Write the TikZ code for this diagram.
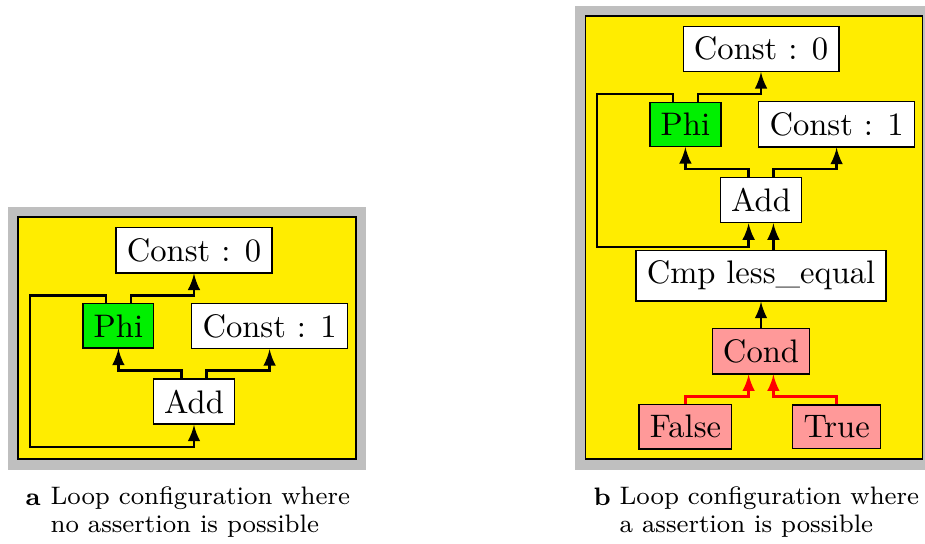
\documentclass[tikz,border=0pt]{standalone}
\usepackage{tikz}
\usetikzlibrary{shapes,arrows,positioning}
\definecolor{bgyellow}{RGB}{255,237,0}
\definecolor{phigreen}{RGB}{0,240,0}
\definecolor{boolred}{RGB}{255,153,153}
\definecolor{framegray}{RGB}{191,191,191}
\tikzstyle{opnode} = [rectangle, draw, fill=white, inner sep=3.3pt]
\tikzstyle{phinode} = [opnode, fill=phigreen]
\tikzstyle{boolnode} = [opnode, fill=boolred]
\tikzstyle{line} = [draw, line width=0.75pt, -latex]
\tikzstyle{boolline} = [line, red]
\tikzstyle{panel} = [draw, fill=bgyellow, line width=0.5pt]
\tikzstyle{frame} = [fill=framegray]
\tikzstyle{caption} = [inner sep=0pt, align=left, font=\fontsize{7.75}{8.6}\selectfont]
\tikzstyle{sublabel} = [caption, font=\fontsize{7.75}{8.6}\selectfont\bfseries]

\begin{document}
\begin{tikzpicture}[x=23.19pt, y=23.19pt]
		\useasboundingbox (-2.566,-1.872) rectangle (9.669,5.311);

		% (a) loop, no assertion
		\fill [frame] (-2.460,-0.906) rectangle (2.275,2.573);
		\path [panel] (-2.328,-0.761) rectangle (2.143,2.440);
		\node [opnode] (add) at (0,0) {Add};
		\node [phinode] (phi) at (-1,1) {Phi};
		\node [opnode] (c1) at (1,1) {Const : 1};
		\node [opnode] (c0) at (0,2) {Const : 0};
		\coordinate (back) at (-2.169,-0.602);

		\path [line] ([xshift=3.8pt]phi.north) -- ++(0,0.1) -| (c0.south);
		\path [line] ([xshift=-3.8pt]phi.north) -- ++(0,0.1) -| (back) -| (add.south);
		\path [line] ([xshift=-3.8pt]add.north) -- ++(0,0.1) -| (phi.south);
		\path [line] ([xshift=3.8pt]add.north) -- ++(0,0.1) -| (c1.south);

		% caption: base of a two-line node is its last line
		\node [sublabel, anchor=base west] (laba) at (-2.235,-1.369) {a};
		\node [caption, anchor=base west] (capa) at (-1.905,-1.739) {Loop configuration where\\no assertion is possible};

		% (b) loop guarded by a comparison
		\begin{scope}[shift={(7.5,-0.335)}]
			\fill [frame] (-2.463,-0.571) rectangle (2.169,5.566);
			\path [panel] (-2.321,-0.426) rectangle (2.136,5.434);
			\node [boolnode] (false) at (-1,0) {False};
			\node [boolnode] (true) at (1,0) {True};
			\node [boolnode] (cond) at (0,1) {Cond};
			\node [opnode] (cmp) at (0,2) {Cmp less\_equal};
			\node [opnode] (add2) at (0,3) {Add};
			\node [phinode] (phi2) at (-1,4) {Phi};
			\node [opnode] (c12) at (1,4) {Const : 1};
			\node [opnode] (c02) at (0,5) {Const : 0};
			\coordinate (back2) at (-2.168,2.382);

			\path [line] ([xshift=3.8pt]phi2.north) -- ++(0,0.1) -| (c02.south);
			\path [line] ([xshift=-3.8pt]phi2.north) -- ++(0,0.1) -| (back2) -| ([xshift=-3.8pt]add2.south);
			\path [line] ([xshift=-3.8pt]add2.north) -- ++(0,0.1) -| (phi2.south);
			\path [line] ([xshift=3.8pt]add2.north) -- ++(0,0.1) -| (c12.south);
			\path [line] ([xshift=3.8pt]cmp.north) -- ([xshift=3.8pt]add2.south);
			\path [line] (cond) -- (cmp);
			\path [boolline] (false.north) -- ++(0,0.1) -| ([xshift=-3.8pt]cond.south);
			\path [boolline] (true.north) -- ++(0,0.1) -| ([xshift=3.8pt]cond.south);
		\end{scope}

		\node [sublabel, anchor=base west] (labb) at (5.278,-1.369) {b};
		\node [caption, anchor=base west] (capb) at (5.622,-1.739) {Loop configuration where\\a assertion is possible};
\end{tikzpicture}
\end{document}
